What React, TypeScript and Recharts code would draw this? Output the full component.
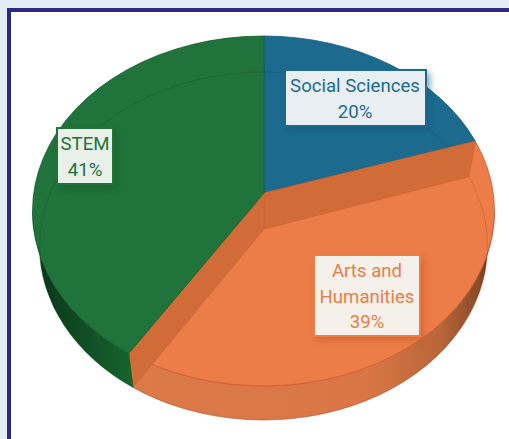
import { Pie, PieChart } from "recharts";

const categories = ["Social Sciences", "Arts and Humanities", "STEM"];
const shares = [20, 39, 41];

const pieData = categories.map((name, i) => ({ name, value: shares[i] }));

// look of each slice and where its label card sits
const TOP_FILL = ["#1c6b8f", "#ec7c48", "#20733a"];
const EDGE = ["#0f5a7c", "#c9582a", "#14602c"];
const WALL_FILL = ["none", "url(#wallOrange)", "url(#wallGreen)"];
const CARD_FILL = ["#e9eef2", "#f5f0ea", "#e9f0ea"];
const CARD_SHADOW = ["url(#shadow0)", "url(#shadow1)", "url(#shadow2)"];
const CARDS = [
  { x: 285, y: 70, w: 141, h: 56, cx: 355, lines: ["Social Sciences"] },
  { x: 314, y: 255, w: 106, h: 81, cx: 367, lines: ["Arts and", "Humanities"] },
  { x: 57, y: 128, w: 56, h: 56, cx: 85, lines: ["STEM"] },
];

// fake 3d: top face ellipse, and the same rim dropped down for the base
const TOP = { x: 263.5, y: 211, rx: 231, ry: 175 };
const BASE = { x: 263.5, y: 246, rx: 224, ry: 174 };
const TILT = 174;
const APEX_DROP = 36;
const BAND = "#d06b38";

type Ell = typeof TOP;

const at = (e: Ell, phi: number) => ({
  x: e.x + Math.cos(phi) * e.rx,
  y: e.y + Math.sin(phi) * e.ry,
});

// rim angle hit by a ray leaving the apex at the pie angle
function rimPhi(cx: number, cy: number, deg: number) {
  const a = (deg * Math.PI) / 180;
  const dx = Math.cos(a) * TOP.rx;
  const dy = -Math.sin(a) * TILT;
  const ox = (cx - TOP.x) / TOP.rx;
  const oy = (cy - TOP.y) / TOP.ry;
  const ux = dx / TOP.rx;
  const uy = dy / TOP.ry;
  const A = ux * ux + uy * uy;
  const B = 2 * (ox * ux + oy * uy);
  const C = ox * ox + oy * oy - 1;
  const s = (-B + Math.sqrt(B * B - 4 * A * C)) / (2 * A);
  return Math.atan2(oy + s * uy, ox + s * ux);
}

function arc(e: Ell, from: number, to: number, move: boolean) {
  const p0 = at(e, from);
  const p1 = at(e, to);
  const large = Math.abs(to - from) > Math.PI ? 1 : 0;
  const sweep = to > from ? 1 : 0;
  return `${move ? "M" : "L"}${p0.x} ${p0.y} A${e.rx} ${e.ry} 0 ${large} ${sweep} ${p1.x} ${p1.y}`;
}

function Slice(props: any) {
  const { cx, cy, startAngle, endAngle, name } = props;
  const i = categories.indexOf(name);
  const phiA = rimPhi(cx, cy, startAngle);
  let phiB = rimPhi(cx, cy, endAngle);
  while (phiB <= phiA) phiB += Math.PI * 2;

  const w0 = Math.max(phiA, 0);
  const w1 = Math.min(phiB, Math.PI);
  const hasWall = w1 > w0;
  const topPath = `M${cx} ${cy} ${arc(TOP, phiA, phiB, false)} Z`;

  const a = at(TOP, phiA);
  const b = at(TOP, phiB);
  const a2 = at(BASE, phiA);
  const b2 = at(BASE, phiB);

  return (
    <g>
      {hasWall && (
        <path
          d={`${arc(TOP, w0, w1, true)} ${arc(BASE, w1, w0, false)} Z`}
          fill={WALL_FILL[i]}
          stroke={EDGE[i]}
          strokeWidth={0.5}
        />
      )}
      <path d={topPath} fill={TOP_FILL[i]} stroke={EDGE[i]} strokeWidth={0.8} />
      {i === 1 && (
        <g fill={BAND} fillOpacity={0.95} stroke="#c9622f" strokeWidth={0.6}>
          <path d={`M${cx} ${cy} L${a.x} ${a.y} L${a2.x} ${a2.y} L${cx} ${cy + APEX_DROP} Z`} />
          <path d={`M${cx} ${cy} L${b.x} ${b.y} L${b2.x} ${b2.y} L${cx} ${cy + APEX_DROP} Z`} />
        </g>
      )}
      <path d={arc(BASE, phiA, phiB, true)} fill="none" stroke="#000" strokeOpacity={0.14} strokeWidth={0.8} />
    </g>
  );
}

function Card(props: any) {
  const { index, value } = props;
  const c = CARDS[index];
  if (!c) return null;
  const lines = [...c.lines, `${value}%`];
  const top = c.y + 16;
  return (
    <g>
      <rect
        x={c.x}
        y={c.y}
        width={c.w}
        height={c.h}
        fill={CARD_FILL[index]}
        stroke={TOP_FILL[index]}
        strokeWidth={2}
        filter={CARD_SHADOW[index]}
      />
      {lines.map((t, k) => (
        <text
          key={k}
          x={c.cx}
          y={top + k * 25.6}
          textAnchor="middle"
          dominantBaseline="central"
          fontFamily="Roboto, sans-serif"
          fontSize={18.6}
          fill={TOP_FILL[index]}
        >
          {t}
        </text>
      ))}
    </g>
  );
}

export default function App() {
  return (
    <div
      style={{
        position: "fixed",
        left: 0,
        top: 0,
        width: 509,
        height: 439,
        overflow: "hidden",
        background: "#e4ecf4",
      }}
    >
      <div
        style={{
          position: "absolute",
          left: 7,
          top: 8,
          width: 600,
          height: 600,
          background: "#fff",
          border: "4px solid #2b2a80",
        }}
      />
      <div style={{ position: "absolute", left: 0, top: 0 }}>
        <PieChart width={509} height={439} margin={{ top: 0, right: 0, bottom: 0, left: 0 }}>
          <defs>
            <linearGradient id="wallGreen" gradientUnits="userSpaceOnUse" x1={35} y1={0} x2={135} y2={0}>
              <stop offset="0%" stopColor="#0c3318" />
              <stop offset="45%" stopColor="#0f4c24" />
              <stop offset="100%" stopColor="#16652f" />
            </linearGradient>
            <linearGradient id="wallOrange" gradientUnits="userSpaceOnUse" x1={130} y1={0} x2={494} y2={0}>
              <stop offset="0%" stopColor="#dc7a48" />
              <stop offset="65%" stopColor="#da7646" />
              <stop offset="85%" stopColor="#b9663a" />
              <stop offset="96%" stopColor="#8a4a28" />
              <stop offset="100%" stopColor="#4f2a16" />
            </linearGradient>
            {TOP_FILL.map((color, i) => (
              <filter key={i} id={`shadow${i}`} x="-20%" y="-20%" width="140%" height="140%">
                <feDropShadow dx={3} dy={4} stdDeviation={3} floodColor={EDGE[i]} floodOpacity={0.55} />
              </filter>
            ))}
          </defs>
          <Pie
            data={pieData}
            dataKey="value"
            nameKey="name"
            cx={264}
            cy={193}
            outerRadius={157}
            startAngle={90}
            endAngle={-270}
            stroke="none"
            shape={Slice}
            label={Card}
            labelLine={false}
            isAnimationActive={false}
          />
        </PieChart>
      </div>
    </div>
  );
}
